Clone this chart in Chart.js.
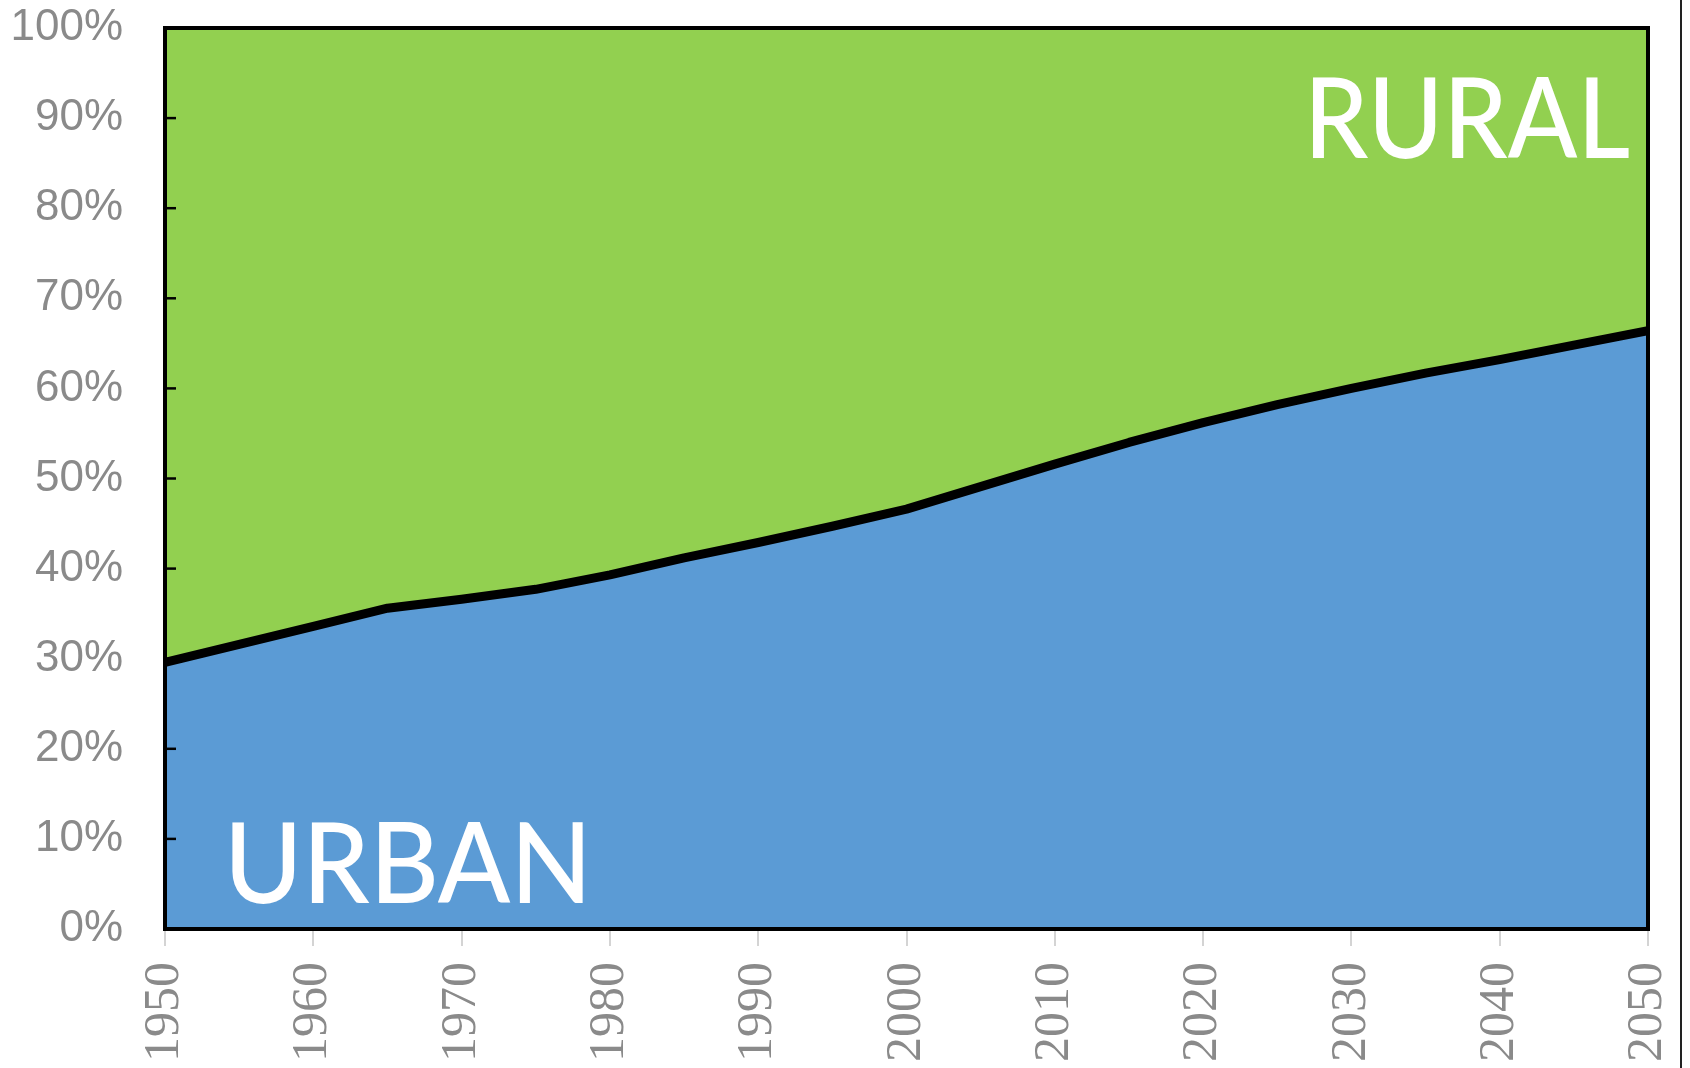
<!DOCTYPE html>
<html>
<head>
<meta charset="utf-8">
<script src="https://cdn.jsdelivr.net/npm/chart.js@4/dist/chart.umd.min.js"></script>
<style>
  html, body { margin: 0; padding: 0; background: #fff; }
  #wrap { width: 1690px; height: 1068px; position: relative; }
</style>
</head>
<body>
<div id="wrap"><canvas id="chart" width="1690" height="1068"></canvas></div>
<script>
// Urban vs rural share of world population, 1950-2050
var years = [1950, 1955, 1960, 1965, 1970, 1975, 1980, 1985, 1990, 1995, 2000,
             2005, 2010, 2015, 2020, 2025, 2030, 2035, 2040, 2045, 2050];
var urbanShare = [29.6, 31.6, 33.6, 35.6, 36.6, 37.7, 39.3, 41.2, 42.9, 44.7, 46.6,
                  49.1, 51.6, 54.0, 56.2, 58.2, 60.0, 61.7, 63.2, 64.8, 66.4];
var ruralShare = [70.4, 68.4, 66.4, 64.4, 63.4, 62.3, 60.7, 58.8, 57.1, 55.3, 53.4,
                  50.9, 48.4, 46.0, 43.8, 41.8, 40.0, 38.3, 36.8, 35.2, 33.6];
var yTicks = [0, 10, 20, 30, 40, 50, 60, 70, 80, 90, 100];
var xTicks = [1950, 1960, 1970, 1980, 1990, 2000, 2010, 2020, 2030, 2040, 2050];

var blue = '#5b9bd5';
var green = '#92d050';
var grey = '#8a8a8a';

function pts(vals) {
  return years.map(function (y, i) { return { x: y, y: vals[i] }; });
}

// Frame, tick marks, area labels and the page edge line
var decor = {
  id: 'decor',
  afterDatasetsDraw: function (chart) {
    var ctx = chart.ctx, a = chart.chartArea, xs = chart.scales.x, ys = chart.scales.y;
    ctx.save();
    // gray outward ticks under the x axis
    ctx.strokeStyle = '#d4d4d4';
    ctx.lineWidth = 2;
    xTicks.forEach(function (v) {
      var px = Math.round(xs.getPixelForValue(v));
      ctx.beginPath();
      ctx.moveTo(px, a.bottom + 2);
      ctx.lineTo(px, a.bottom + 17);
      ctx.stroke();
    });
    // small inward ticks on the y axis
    ctx.strokeStyle = '#000';
    ctx.lineWidth = 2.5;
    yTicks.forEach(function (v) {
      var py = ys.getPixelForValue(v);
      ctx.beginPath();
      ctx.moveTo(a.left, py);
      ctx.lineTo(a.left + 11, py);
      ctx.stroke();
    });
    ctx.lineWidth = 4;
    ctx.strokeRect(a.left, a.top, a.right - a.left, a.bottom - a.top);

    ctx.fillStyle = '#fff';
    ctx.font = '500 112px Lato';
    ctx.textBaseline = 'alphabetic';
    ctx.textAlign = 'left';
    ctx.fillText('URBAN', 224, 903, 368);
    ctx.textAlign = 'right';
    ctx.fillText('RURAL', 1630, 158, 326);

    ctx.strokeStyle = '#222';
    ctx.lineWidth = 2;
    ctx.beginPath();
    ctx.moveTo(1681, 0);
    ctx.lineTo(1681, 1068);
    ctx.stroke();
    ctx.restore();
  }
};

new Chart(document.getElementById('chart'), {
  type: 'line',
  data: {
    datasets: [
      {
        label: 'Urban',
        data: pts(urbanShare),
        backgroundColor: blue,
        borderColor: '#000',
        borderWidth: 9,
        borderJoinStyle: 'round',
        pointRadius: 0,
        tension: 0,
        fill: 'origin',
        order: 1
      },
      {
        label: 'Rural',
        data: pts(ruralShare),
        backgroundColor: green,
        borderWidth: 0,
        borderColor: 'rgba(0,0,0,0)',
        pointRadius: 0,
        tension: 0,
        fill: '-1',
        order: 2
      }
    ]
  },
  options: {
    responsive: false,
    animation: false,
    layout: { padding: { left: 8, top: 28, right: 42, bottom: 0 } },
    plugins: { legend: { display: false }, tooltip: { enabled: false } },
    scales: {
      x: {
        type: 'linear',
        min: 1950,
        max: 2050,
        afterBuildTicks: function (s) { s.ticks = xTicks.map(function (v) { return { value: v }; }); },
        afterFit: function (s) { s.height = 139; },
        grid: { display: false, drawTicks: true, tickLength: 33 },
        border: { display: false },
        ticks: {
          minRotation: 90, maxRotation: 90,
          padding: 0,
          color: grey,
          font: { family: '"Liberation Serif", serif', size: 50, lineHeight: 0.8 },
          callback: function (v) { return String(v); }
        }
      },
      y: {
        stacked: true,
        min: 0,
        max: 100,
        afterBuildTicks: function (s) { s.ticks = yTicks.map(function (v) { return { value: v }; }); },
        afterFit: function (s) { s.width = 157; },
        grid: { display: false, drawTicks: true, tickLength: 42 },
        border: { display: false },
        ticks: {
          padding: 0,
          color: grey,
          font: { family: 'Liberation Sans', size: 44, lineHeight: 1 },
          callback: function (v) { return v + '%'; }
        }
      }
    }
  },
  plugins: [decor]
});
</script>
</body>
</html>
